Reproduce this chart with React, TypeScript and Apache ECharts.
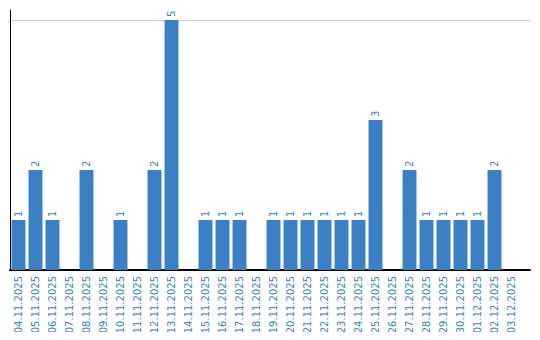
import React, { useEffect, useRef } from "react";
import * as echarts from "echarts";

const categories = [
  "04.11.2025", "05.11.2025", "06.11.2025", "07.11.2025", "08.11.2025",
  "09.11.2025", "10.11.2025", "11.11.2025", "12.11.2025", "13.11.2025",
  "14.11.2025", "15.11.2025", "16.11.2025", "17.11.2025", "18.11.2025",
  "19.11.2025", "20.11.2025", "21.11.2025", "22.11.2025", "23.11.2025",
  "24.11.2025", "25.11.2025", "26.11.2025", "27.11.2025", "28.11.2025",
  "29.11.2025", "30.11.2025", "01.12.2025", "02.12.2025", "03.12.2025",
];
const values = [1, 2, 1, 0, 2, 0, 1, 0, 2, 5, 0, 1, 1, 1, 0, 1, 1, 1, 1, 1, 1, 3, 0, 2, 1, 1, 1, 1, 2, 0];
const yTickLabels = [5];
const yMax = 5.2;

export default function App() {
  const ref = useRef<HTMLDivElement>(null);
  useEffect(() => {
    if (!ref.current) return;
    const chart = echarts.init(ref.current, null, { renderer: "svg" });
    const font = "DejaVu Sans";
    const blue = "#3b7fc4";
    chart.setOption({
      animation: false,
      grid: [
        { left: 10, right: 10, top: 10, bottom: 70 },
        { left: 10, right: 20, top: 10, bottom: 70 },
      ],
      xAxis: [
        {
          gridIndex: 0,
          type: "value",
          min: 0,
          max: 1,
          axisLine: { show: true, onZero: false, lineStyle: { color: "#000", width: 2 } },
          axisTick: { show: false },
          axisLabel: { show: false },
          splitLine: { show: false },
        },
        {
          gridIndex: 1,
          type: "category",
          data: categories,
          axisLine: { show: false },
          axisTick: { show: false },
          axisLabel: {
            interval: 0,
            rotate: 90,
            color: blue,
            fontFamily: font,
            fontSize: 10,
            margin: 6,
          },
        },
      ],
      yAxis: [
        {
          gridIndex: 0,
          type: "value",
          min: 0,
          max: yMax,
          interval: 5,
          axisLine: { show: true, lineStyle: { color: "#000", width: 1 } },
          axisTick: { show: false },
          splitLine: { showMaxLine: false, showMinLine: false, lineStyle: { color: "#cccccc", width: 1 } },
          axisLabel: { show: false },
        },
        {
          gridIndex: 1,
          type: "value",
          min: 0,
          max: yMax,
          show: false,
        },
      ],
      series: [
        {
          type: "bar",
          xAxisIndex: 1,
          yAxisIndex: 1,
          data: values.map((v) => (v === 0 ? null : v)),
          barCategoryGap: "18%",
          itemStyle: { color: blue },
          label: {
            show: true,
            position: "top",
            rotate: 90,
            align: "left",
            verticalAlign: "middle",
            distance: 3,
            color: blue,
            fontFamily: font,
            fontSize: 10,
          },
        },
      ],
    });
    try {
      const x0 = chart.convertToPixel({ xAxisIndex: 0 }, 0) as number;
      const graphics = yTickLabels.map((v) => {
        const y = chart.convertToPixel({ yAxisIndex: 0 }, v) as number;
        return {
          type: "text",
          z: 100,
          x: x0 - 6,
          y: y + 1,
          rotation: Math.PI / 2,
          style: {
            text: String(v),
            fill: "#000",
            fontFamily: font,
            fontSize: 10,
            align: "center",
            verticalAlign: "middle",
          },
        };
      });
      chart.setOption({ graphic: graphics });
    } catch (e) {
      // ignore
    }
    return () => chart.dispose();
  }, []);
  return <div ref={ref} style={{ width: 540, height: 340, margin: -8 }} />;
}
